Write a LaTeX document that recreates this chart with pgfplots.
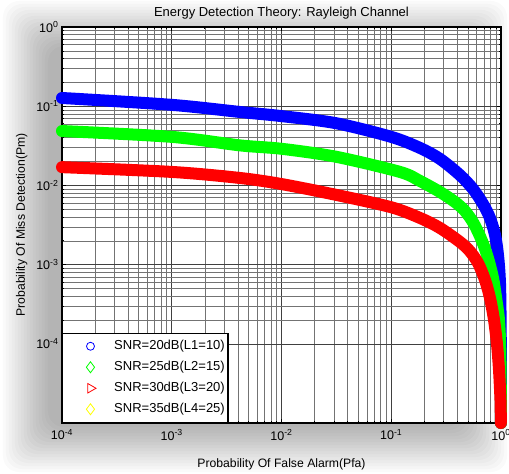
\documentclass[border=0pt]{standalone}
\usepackage{fontspec}
\setmainfont{Liberation Sans}
\usepackage{pgfplots}
\pgfplotsset{compat=1.18}
\definecolor{mblue}{RGB}{0,0,255}
\definecolor{mgreen}{RGB}{0,255,0}
\definecolor{mred}{RGB}{255,0,0}
\definecolor{myellow}{RGB}{255,255,0}
\begin{document}
\begin{tikzpicture}
\useasboundingbox (-62pt,-51pt) rectangle (447pt,423pt);
\fill[white] (-62pt,-51pt) rectangle (447pt,423pt);
\foreach \i in {0,...,15} {
  \fill[black, opacity=0.02, rounded corners=16pt] ({-59pt+\i*3pt}, {-49pt+\i*3pt}) rectangle ({445pt-\i*3pt}, {422pt-\i*3pt});
}
\begin{axis}[
  at={(0pt,0pt)}, anchor=south west,
  scale only axis, width=439pt, height=396pt,
  xmode=log, ymode=log,
  xmin=1e-4, xmax=1, ymin=1e-5, ymax=1,
  axis background/.style={fill=white},
  grid=both,
  major grid style={black!75, line width=0.6pt},
  minor grid style={black!55, line width=0.5pt},
  axis line style={black, line width=1.5pt},
  tick align=inside,
  major tick length=4pt, minor tick length=2.5pt,
  every tick/.style={black, line width=0.6pt},
  xtick={1e-4,1e-3,1e-2,1e-1,1},
  xticklabels={10\textsuperscript{-4},10\textsuperscript{-3},10\textsuperscript{-2},10\textsuperscript{-1},10\textsuperscript{0}},
  ytick={1e-4,1e-3,1e-2,1e-1,1},
  yticklabels={10\textsuperscript{-4},10\textsuperscript{-3},10\textsuperscript{-2},10\textsuperscript{-1},10\textsuperscript{0}},
  tick label style={font=\fontsize{12.5}{14}\selectfont},
  xticklabel style={yshift=-3pt},
  title={Energy Detection Theory: Rayleigh Channel},
  title style={at={(axis description cs:0.5,1)}, anchor=base, yshift=5pt, font=\fontsize{13}{15}\selectfont},
  xlabel={Probability Of False Alarm(Pfa)},
  xlabel style={at={(axis description cs:0.5,0)}, anchor=base, yshift=-44pt, font=\fontsize{12.2}{14}\selectfont},
  ylabel={Probability Of Miss Detection(Pm)},
  ylabel style={at={(axis description cs:-0.0843,0.5)}, anchor=base, font=\fontsize{12.2}{14}\selectfont},
  clip=false,
  legend cell align=left,
  legend style={at={(axis description cs:0,0)}, anchor=south west, draw=black, line width=1.5pt, fill=white,
    font=\fontsize{13}{15}\selectfont, inner xsep=2pt, inner ysep=6pt, row sep=7pt, column sep=11pt,
    nodes={inner sep=1pt, text height=9pt, text depth=3pt}},
  legend image code/.code={\path[draw opacity=0, fill opacity=0] (0pt,-4pt) rectangle (36pt,4pt); \draw[#1] plot coordinates {(25pt,0pt)};},
]
\addplot[mblue, line width=12pt, line cap=round, line join=round, smooth, forget plot] coordinates {
(1e-4,0.127) (1e-3,0.104) (4.2e-3,0.0845) (1e-2,0.075) (3.14e-2,0.061) (0.1,0.041) (0.183,0.0297) (0.278,0.0216) (0.423,0.0135) (0.556,0.0090) (0.686,0.00582) (0.794,0.00387) (0.882,0.00237) (0.939,0.00132) (0.979,0.000586) (0.9937,0.000149) (0.9985,0.00003) (0.9996,0.00001)
};
\addplot[mgreen, line width=12pt, line cap=round, line join=round, smooth, forget plot] coordinates {
(1e-4,0.0486) (1e-3,0.041) (4.2e-3,0.032) (1e-2,0.029) (3.14e-2,0.023) (0.12,0.0148) (0.183,0.01137) (0.278,0.00826) (0.381,0.00617) (0.47,0.00475) (0.5675,0.00326) (0.671,0.00199) (0.761,0.00121) (0.846,0.000678) (0.900,0.00039) (0.959,0.0002) (0.9854,0.000084) (0.9958,0.000026) (0.9988,0.00001)
};
\addplot[mred, line width=12pt, line cap=round, line join=round, smooth, forget plot] coordinates {
(1e-4,0.017) (1e-3,0.0148) (4.2e-3,0.0124) (1e-2,0.0104) (3.14e-2,0.0076) (0.1,0.0053) (0.183,0.00388) (0.278,0.0029) (0.423,0.00193) (0.5175,0.00149) (0.617,0.00105) (0.715,0.00064) (0.794,0.000379) (0.864,0.0002) (0.921,0.000097) (0.959,0.000047) (0.9895,0.0000195) (0.997,0.00001)
};
\addlegendimage{only marks, mark=o, mblue, mark size=4pt, mark options={line width=0.8pt}}
\addlegendentry{SNR=20dB(L1=10)}
\addlegendimage{only marks, mark=diamond, mgreen, mark size=5.5pt, mark options={line width=0.8pt}}
\addlegendentry{SNR=25dB(L2=15)}
\addlegendimage{only marks, mark=triangle, mred, mark size=5.5pt, mark options={line width=0.8pt, rotate=-90}}
\addlegendentry{SNR=30dB(L3=20)}
\addlegendimage{only marks, mark=diamond, myellow, mark size=5.5pt, mark options={line width=0.8pt}}
\addlegendentry{SNR=35dB(L4=25)}
\end{axis}
\end{tikzpicture}
\end{document}
